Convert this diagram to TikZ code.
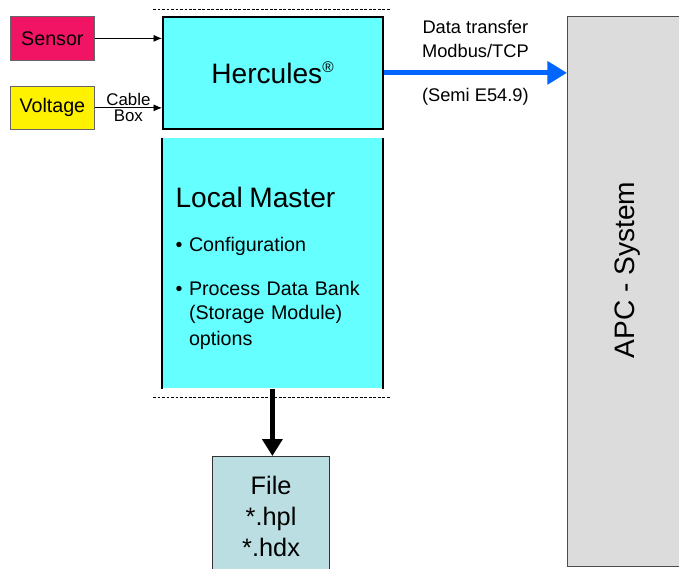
\documentclass[tikz,border=0pt]{standalone}
\usepackage{fontspec}
\setmainfont{Liberation Sans}
\usepackage{tikz}
\usetikzlibrary{arrows.meta,positioning}
\definecolor{sensorred}{RGB}{242,20,100}
\definecolor{herccyan}{RGB}{102,255,255}
\definecolor{filecyan}{RGB}{186,222,226}
\definecolor{apcgray}{RGB}{220,220,220}
\definecolor{transferblue}{RGB}{0,102,255}

\begin{document}
\begin{tikzpicture}[x=0.025cm,y=-0.025cm,
  box/.style={draw=black!60,line width=0.5pt,inner sep=0pt,anchor=north west,font=\fontsize{14}{16}\selectfont},
  thinarrow/.style={-{Latex[length=6pt,width=5pt]},line width=0.6pt},
  borderline/.style={dashed,dash pattern=on 2pt off 1.2pt,line width=0.7pt}]
\useasboundingbox (0,0) rectangle (679,568);
\node[box,fill=sensorred,minimum width=2.1cm,minimum height=1.1cm] (sensor) at (10,16) {Sensor};
\node[box,fill=yellow,minimum width=2.1cm,minimum height=1.075cm] (voltage) at (10,86) {Voltage};
\node[box,draw=black,line width=1.2pt,fill=herccyan,minimum width=5.5cm,minimum height=2.8cm,font=\fontsize{20}{24}\selectfont] (herc) at (162,16) {Hercules\textsuperscript{\fontsize{11}{12}\selectfont\textregistered}};
\node[box,draw=none,fill=herccyan,minimum width=5.5cm,minimum height=6.25cm,text width=4.84cm,inner xsep=0.33cm,align=left,font=\fontsize{14}{17}\selectfont] (master) at (162,138) {{\fontsize{20}{24}\selectfont\rule{0pt}{22pt}Local Master}\\[14pt]
\textbullet\ Configuration\\[14pt]
\textbullet\ Process Data Bank\\
\phantom{\textbullet\ }(Storage Module)\\[2pt]
\phantom{\textbullet\ }options};
\draw[line width=1.2pt] (master.north west) -- (master.south west) (master.north east) -- (master.south east);
\node[box,draw=black!70,fill=apcgray,minimum width=2.875cm,minimum height=13.75cm] (apc) at (567,16) {};
\node[rotate=90,font=\fontsize{20}{24}\selectfont] (apclabel) at (628,270) {APC - System};
\node[box,draw=black!80,line width=0.8pt,fill=filecyan,minimum width=2.925cm,minimum height=2.975cm,align=center,font=\fontsize{18}{22}\selectfont] (file) at (212,456) {File\\*.hpl\\*.hdx};

\draw[borderline] (153,9) -- (391,9);
\draw[borderline] (153,397) -- (391,397);

\draw[thinarrow] (sensor.east) -- (sensor.east -| herc.west);
\draw[thinarrow] (voltage.east) -- (voltage.east -| herc.west)
  node[midway,above,inner sep=1pt,font=\fontsize{12}{14}\selectfont] (cablelabel) {Cable}
  node[midway,below,inner sep=1pt,font=\fontsize{12}{14}\selectfont] (boxlabel) {Box};
\draw[line width=3.5pt,transferblue,-{Triangle[length=14pt,width=16pt]}] (herc.east) -- (herc.east -| apc.west)
  node[midway,above=9pt,inner sep=0pt,align=center,black,font=\fontsize{13}{17}\selectfont] (transferlabel) {Data transfer\\Modbus/TCP}
  node[midway,below=9pt,inner sep=0pt,black,font=\fontsize{13}{16}\selectfont] (semilabel) {(Semi E54.9)};
\draw[line width=4pt,-{Triangle[length=12pt,width=14pt]}] (master.south) -- (master.south |- file.north);
\end{tikzpicture}
\end{document}
